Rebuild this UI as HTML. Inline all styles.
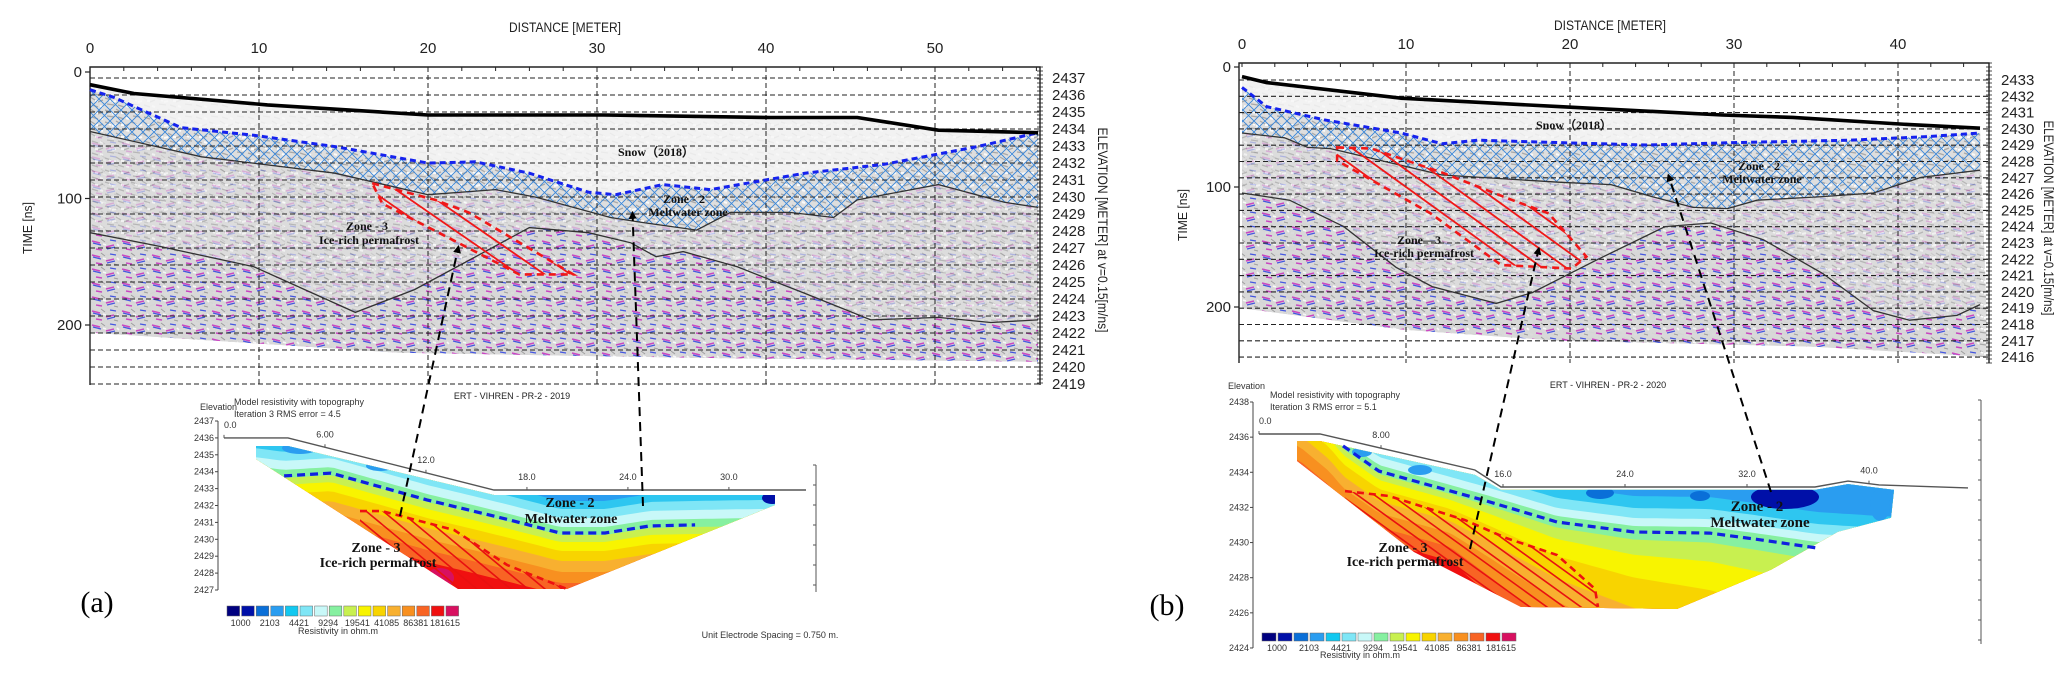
<!DOCTYPE html>
<html><head><meta charset="utf-8"><style>
html,body{margin:0;padding:0;background:#fff;width:2067px;height:676px;overflow:hidden;}
svg{display:block;overflow:hidden;}
.ax{font-family:"Liberation Sans",sans-serif;fill:#222;}
.lb{font-family:"Liberation Serif",serif;font-weight:bold;fill:#111;}
.sm{font-family:"Liberation Sans",sans-serif;fill:#333;font-size:9px;}
</style></head><body>
<svg id="fig" width="2067" height="676" viewBox="0 0 2067 676" xmlns="http://www.w3.org/2000/svg">
<defs>
<pattern id="noise" width="26" height="12" patternUnits="userSpaceOnUse">
<rect width="26" height="12" fill="#dedede"/>
<path d="M1 2l6 2M12 1l5 3M20 6l5-2M3 8l7 1M14 9l6 2" stroke="#a8a8a8" stroke-width="1.3"/>
<path d="M8 6l4-1M22 10l3 1M17 5l3 0M5 4l2 1" stroke="#fbfbfb" stroke-width="2"/>
</pattern>
<pattern id="streak" width="30" height="14" patternUnits="userSpaceOnUse">
<rect width="30" height="14" fill="#d8d8d8"/>
<path d="M2 3l8 2M16 9l8 -2M6 11l6 1" stroke="#c83cc0" stroke-width="1.6"/>
<path d="M3 5l8 2M17 11l8 -2M20 2l6 1" stroke="#3a4ee0" stroke-width="1.3"/>
<path d="M11 1l4 3M24 12l4 1" stroke="#999" stroke-width="1"/>
<path d="M13 6l3 1M27 6l2 2" stroke="#fafafa" stroke-width="1.6"/>
</pattern>
<pattern id="xhatch" width="11" height="11" patternUnits="userSpaceOnUse">
<path d="M0 0L11 11M11 0L0 11" stroke="#3a86d8" stroke-width="0.9"/>
</pattern>
<marker id="arr" viewBox="0 0 10 10" refX="8" refY="5" markerWidth="4" markerHeight="5" orient="auto">
<path d="M0 0L10 5L0 10z" fill="#000"/>
</marker>
</defs>

<text class="ax" x="565" y="32" font-size="14" text-anchor="middle" textLength="112" lengthAdjust="spacingAndGlyphs">DISTANCE [METER]</text>
<text class="ax" transform="translate(32,228) rotate(-90)" font-size="13" text-anchor="middle" textLength="52" lengthAdjust="spacingAndGlyphs">TIME [ns]</text>
<text class="ax" transform="translate(1098,230) rotate(90)" font-size="14" text-anchor="middle" textLength="205" lengthAdjust="spacingAndGlyphs">ELEVATION [METER] at v=0.15[m/ns]</text>
<text class="ax" x="512" y="399" font-size="9" text-anchor="middle">ERT - VIHREN - PR-2 - 2019</text>
<text class="sm" x="200" y="410">Elevation</text>
<text class="sm" x="234" y="405">Model resistivity with topography</text>
<text class="sm" x="234" y="417">Iteration 3 RMS error = 4.5</text>
<text class="sm" x="338" y="634" text-anchor="middle">Resistivity in ohm.m</text>
<text class="sm" x="770" y="638" text-anchor="middle">Unit Electrode Spacing = 0.750 m.</text>
<text x="97" y="612" font-family="Liberation Serif, serif" font-size="30" text-anchor="middle">(a)</text>

<text class="ax" x="1610" y="30" font-size="14" text-anchor="middle" textLength="112" lengthAdjust="spacingAndGlyphs">DISTANCE [METER]</text>
<text class="ax" transform="translate(1187,215) rotate(-90)" font-size="13" text-anchor="middle" textLength="52" lengthAdjust="spacingAndGlyphs">TIME [ns]</text>
<text class="ax" transform="translate(2044,218) rotate(90)" font-size="14" text-anchor="middle" textLength="195" lengthAdjust="spacingAndGlyphs">ELEVATION [METER] at v=0.15[m/ns]</text>
<text class="ax" x="1608" y="388" font-size="9" text-anchor="middle">ERT - VIHREN - PR-2 - 2020</text>
<text class="sm" x="1228" y="389">Elevation</text>
<text class="sm" x="1270" y="398">Model resistivity with topography</text>
<text class="sm" x="1270" y="410">Iteration 3 RMS error = 5.1</text>
<text class="sm" x="1360" y="658" text-anchor="middle">Resistivity in ohm.m</text>
<text x="1167" y="615" font-family="Liberation Serif, serif" font-size="30" text-anchor="middle">(b)</text>

<g id="layer"></g>
</svg>
<script>
// ---------- DATA (distance m, time ns) ----------
const distTicksA=[0,10,20,30,40,50];
const distTicksB=[0,10,20,30,40];
const timeTicks=[0,100,200];
const elevLabelsA=[2437,2436,2435,2434,2433,2432,2431,2430,2429,2428,2427,2426,2425,2424,2423,2422,2421,2420,2419];
const elevLabelsB=[2433,2432,2431,2430,2429,2428,2427,2426,2425,2424,2423,2422,2421,2420,2419,2418,2417,2416];

const surfA=[[0,10],[2.6,17],[10.5,26],[20,34],[30.4,34],[40.2,36],[45.4,36],[50.2,46],[56.1,48]];
const snowA=[[0,14],[1.4,20],[5.4,44],[9.7,50],[14.5,59],[20,72],[22.8,71],[26,80],[29.5,95],[31.1,97],[33.9,89],[36.7,93],[42.3,80],[47,73],[52.5,59],[56.1,48]];
const layer1A=[[0,47],[6.6,67],[14.5,80],[20,97],[24,93],[26.4,99],[30.8,115],[32.7,119],[35.9,125],[37.9,111],[41.4,111],[44,115],[45.4,101],[50.2,89],[54.1,103],[56.1,107]];
const layer2A=[[0,127],[4.2,138],[9.7,154],[15.7,190],[19.2,172],[22.4,149],[26,123],[29.5,127],[32,135],[33.5,146],[35.1,142],[38.3,154],[42.3,175],[46.2,196],[50.2,194],[53.3,198],[56.1,196]];
const bottomA=[[0,206],[18.3,222],[36.1,226],[56.1,229]];
const zone3A=[[16.7,88],[20.4,101],[22.4,111],[28.6,160],[25.4,160],[17.3,104]];
const arrowsA=[[21.8,138],[32.1,111]];

const surfB=[[0,8],[1.5,13],[9.7,26],[19.3,33],[29.3,40],[33.6,42],[40.7,48],[45,51]];
const snowB=[[0,17],[1.5,33],[5,44],[9.7,55],[12.2,64],[14.4,61],[19.3,63],[24.7,65],[30,63],[37.1,61],[41.8,58],[45,55]];
const layer1B=[[0,55],[2.6,59],[4,67],[5.4,68],[12.2,90],[19.3,96],[22.5,98],[25,108],[27.5,117],[29.6,118],[31.4,111],[35.4,108],[38.5,105],[41.4,92],[45,86]];
const layer2B=[[0,105],[2.9,111],[6.2,133],[9.4,167],[11.6,183],[15.5,197],[17.7,188],[21.6,161],[25.8,133],[28.6,130],[31.8,144],[35.4,172],[38.5,203],[40.7,211],[43.6,207],[45,198]];
const bottomB=[[0,201],[9.9,219],[19.2,228],[34.8,233],[43.5,240],[45.5,242]];
const zone3B=[[5.8,67],[7.9,68],[12.2,88],[16.5,111],[18.7,122],[21,158],[20.1,168],[15.8,165],[11.5,122],[5.8,78]];
const arrowsB=[[18.1,151],[26,90]];

// ---------- ERT DATA (distance m, elevation m) ----------
const ertTicksA=["0.0","6.00","12.0","18.0","24.0","30.0"];
const ertTickPosA=[0,6,12,18,24,30];
const ertElevA=[2437,2436,2435,2434,2433,2432,2431,2430,2429,2428,2427];
const ertSurfA=[[0,2436],[3.8,2436],[16.04,2432.92],[34.58,2432.92]];
const ertBodyA=[[1.9,2435.52],[3.8,2435.52],[16.04,2432.62],[32.74,2432.62],[32.74,2432.03],[20.38,2427.06],[13.9,2427.06],[1.9,2434.75]];
const ertMeltA=[[3.57,2433.75],[6.36,2433.92],[12.06,2432.33],[16.99,2431.14],[19.96,2430.37],[22.64,2430.37],[25.31,2430.79],[27.99,2430.85]];
const ertZone3A=[[8.08,2431.67],[9.39,2431.67],[13.67,2430.55],[16.82,2428.48],[20.38,2427.06],[13.9,2427.06],[8.08,2430.79]];

const ertTicksB=["0.0","8.00","16.0","24.0","32.0","40.0"];
const ertTickPosB=[0,8,16,24,32,40];
const ertElevB=[2438,2436,2434,2432,2430,2428,2426,2424];
const ertSurfB=[[0,2436.18],[4,2436.18],[14.16,2434.13],[15.87,2433.16],[36.46,2433.16],[38.62,2433.5],[40.66,2433.28],[46.49,2433.11]];
const ertBodyB=[[2.49,2435.78],[4,2435.78],[14.16,2433.85],[15.87,2433.0],[36.46,2433.0],[38.62,2433.33],[41.64,2433.0],[41.44,2431.41],[37.97,2430.61],[33.57,2428.45],[27.41,2426.22],[17.18,2426.33],[10.16,2429.46],[2.49,2434.64]];
const ertMeltB=[[5.51,2435.5],[7.87,2434.07],[11.87,2433.1],[14.89,2432.37],[19.54,2431.17],[24.59,2430.6],[29.57,2430.54],[32.92,2430.15],[36.59,2429.69]];
const ertZone3B=[[5.64,2432.93],[8.52,2432.65],[13.51,2431.28],[16.2,2430.26],[19.54,2429.29],[22.03,2427.36],[22.23,2426.33],[17.18,2426.33],[10.16,2429.46],[5.64,2432.54]];

const cbValues=["1000","2103","4421","9294","19541","41085","86381","181615"];
const cbColors=["#00007f","#0010a8","#0a6fd8","#2a9df0","#12c8f0","#7fe6f6","#c8f8f8","#86f0a0","#c8f050","#f8f400","#f8d400","#f8b030","#f89020","#f86424","#f01010","#d81060"];

// ---------- helpers ----------
const NS='http://www.w3.org/2000/svg';
const root=document.getElementById('layer');
function mk(tag,attrs,parent){const e=document.createElementNS(NS,tag);for(const k in attrs)e.setAttribute(k,attrs[k]);(parent||root).appendChild(e);return e;}
function ptsStr(a,fx,fy){return a.map(p=>fx(p[0]).toFixed(1)+','+fy(p[1]).toFixed(1)).join(' ');}
function interp(arr,x){
  if(x<=arr[0][0])return arr[0][1];
  for(let i=1;i<arr.length;i++){if(x<=arr[i][0]){const a=arr[i-1],b=arr[i];return a[1]+(b[1]-a[1])*(x-a[0])/(b[0]-a[0]);}}
  return arr[arr.length-1][1];
}

function radar(P,d,tag){
  const X=m=>P.x0+m*P.pxm, Y=t=>P.y0+t*P.pxns;
  const g=mk('g',{});
  
  
  const cid='clip-'+tag;
  const cp=mk('clipPath',{id:cid},g);
  mk('polygon',{points:ptsStr(d.surf,X,Y)+' '+ptsStr(d.bottom.slice().reverse(),X,Y)},cp);
  const data=mk('g',{'clip-path':'url(#'+cid+')'},g);
  const bg=mk('rect',{x:P.left,y:P.top,width:P.right-P.left,height:P.bottom-P.top,fill:'url(#noise)'},data);
  
  
  const deep1=mk('polygon',{points:ptsStr(d.l1,X,Y)+' '+X(d.l1[d.l1.length-1][0])+','+P.bottom+' '+P.left+','+P.bottom,fill:'url(#streak)',opacity:'0.3'},data);
  
  
  const deep2=mk('polygon',{points:ptsStr(d.l2,X,Y)+' '+X(d.l2[d.l2.length-1][0])+','+P.bottom+' '+P.left+','+P.bottom,fill:'url(#streak)',opacity:'0.9'},data);
  
  
  const snowTop=mk('polygon',{points:ptsStr(d.surf,X,Y)+' '+ptsStr(d.snow.slice().reverse(),X,Y),fill:'#f6f6f6',opacity:'0.85'},data);
  
  
  const melt=mk('polygon',{points:ptsStr(d.snow,X,Y)+' '+ptsStr(d.l1.slice().reverse(),X,Y),fill:'url(#xhatch)'},data);
  
  
  for(let i=0;i<d.elev.length;i++){
    const y=P.ey0+i*P.estep;
    const l=mk('line',{x1:P.left,x2:P.right,y1:y,y2:y,stroke:'#222','stroke-width':1.1,'stroke-dasharray':'5,3'},g);
    
    
    const t=mk('text',{x:P.right+12,y:y+5,'font-size':15,class:'ax'},g);
    t.textContent=d.elev[i];
    
    
  }
  d.dt.forEach(v=>{
    const x=X(v);
    if(v>0){const l=mk('line',{x1:x,x2:x,y1:P.top,y2:P.bottom,stroke:'#222','stroke-width':1,'stroke-dasharray':'5,3'},g);
    
    }
    const t=mk('text',{x:x,y:P.top-14,'font-size':15,'text-anchor':'middle',class:'ax'},g);
    t.textContent=v;
    
    
  });
  for(let m=0;m<=P.maxD;m+=2){mk('line',{x1:X(m),x2:X(m),y1:P.top,y2:P.top+4,stroke:'#222'},g);}
  timeTicks.forEach(v=>{
    const y=Y(v);
    mk('line',{x1:P.left-5,x2:P.left,y1:y,y2:y,stroke:'#222','stroke-width':1.2},g);
    const t=mk('text',{x:P.left-8,y:y+5,'font-size':15,'text-anchor':'end',class:'ax'},g);
    t.textContent=v;
    
    
  });
  const fr=mk('path',{d:`M${P.left},${P.bottom}V${P.top}H${P.right}V${P.bottom}`,fill:'none',stroke:'#222','stroke-width':1.4},g);
  
  
  for(let y=P.top;y<=P.bottom;y+=4){mk('line',{x1:P.right-3,x2:P.right+3,y1:y,y2:y,stroke:'#222','stroke-width':0.8},g);}
  const l1=mk('polyline',{points:ptsStr(d.l1,X,Y),fill:'none',stroke:'#333','stroke-width':1.3},g);
  
  
  const l2=mk('polyline',{points:ptsStr(d.l2,X,Y),fill:'none',stroke:'#333','stroke-width':1.3},g);
  
  
  const sn=mk('polyline',{points:ptsStr(d.snow,X,Y),fill:'none',stroke:'#1522ee','stroke-width':3,'stroke-dasharray':'6,4'},g);
  
  
  const sf=mk('polyline',{points:ptsStr(d.surf,X,Y),fill:'none',stroke:'#000','stroke-width':3.6},g);
  
  
  const zc='zc-'+tag;
  const zcp=mk('clipPath',{id:zc},g);
  mk('polygon',{points:ptsStr(d.z3,X,Y)},zcp);
  const zg=mk('g',{'clip-path':'url(#'+zc+')'},g);
  
  
  const p0=[X(d.z3[0][0]),Y(d.z3[0][1])];
  for(let k=-6;k<12;k++){const x=p0[0]+k*P.hsp;mk('line',{x1:x,y1:p0[1]-10,x2:x+P.hlen,y2:p0[1]-10+P.hlen*P.hsl,stroke:'#f01818','stroke-width':1.8},zg);}
  const zo=mk('polygon',{points:ptsStr(d.z3,X,Y),fill:'none',stroke:'#f01818','stroke-width':2.6,'stroke-dasharray':'7,5'},g);
  
  
  return {X,Y};
}

function ert(E,d,tag){
  const X=m=>E.x0+m*E.pxm, Y=e=>E.y0+(E.e0-e)*E.pxe;
  const g=mk('g',{});
  
  
  const ax=mk('line',{x1:E.axx,x2:E.axx,y1:Y(d.elev[0]),y2:Y(d.elev[d.elev.length-1]),stroke:'#444'},g);
  
  
  d.elev.forEach(v=>{
    mk('line',{x1:E.axx-3,x2:E.axx,y1:Y(v),y2:Y(v),stroke:'#444'},g);
    const t=mk('text',{x:E.axx-4,y:Y(v)+3,'text-anchor':'end',class:'sm','font-size':8.5},g);
    t.textContent=v;
    
    
  });
  const ra=mk('line',{x1:E.rx,x2:E.rx,y1:E.ry1,y2:E.ry2,stroke:'#555'},g);
  
  
  for(let y=E.ry1;y<=E.ry2;y+=20){mk('line',{x1:E.rx-3,x2:E.rx,y1:y,y2:y,stroke:'#555'},g);}
  const cid='ertclip-'+tag;
  const cp=mk('clipPath',{id:cid},g);
  mk('polygon',{points:ptsStr(d.body,X,Y)},cp);
  const bg=mk('g',{'clip-path':'url(#'+cid+')'},g);
  
  
  const mpx=d.melt.map(p=>[X(p[0]),Y(p[1])]);
  const curve=E.extL.concat(mpx,E.extR);
  mk('rect',{x:E.x0-50,y:E.y0-50,width:900,height:270,fill:'#f01010'},bg);
  E.bands.forEach(b=>{
    const pts=[];
    for(let x=E.x0-40;x<=E.x0+820;x+=6){
      const k=b[0]>0?(1+Math.max(0,x-E.kx)/E.kd):1;
      const yy=Math.min(660,interp(curve,x)+b[0]*k);
      pts.push(x.toFixed(1)+','+yy.toFixed(1));
    }
    pts.push((E.x0+820)+','+(E.y0-60));pts.push((E.x0-40)+','+(E.y0-60));
    mk('polygon',{points:pts.join(' '),fill:b[1]},bg);
  });
  E.blobs.forEach(b=>{mk('ellipse',{cx:b[0],cy:b[1],rx:b[2],ry:b[3],fill:b[4]},bg);});
  const zc='ertz-'+tag;
  const zcp=mk('clipPath',{id:zc},g);
  mk('polygon',{points:ptsStr(d.z3,X,Y)},zcp);
  const zg=mk('g',{'clip-path':'url(#'+zc+')'},g);
  
  
  const p0=[X(d.z3[0][0]),Y(d.z3[0][1])];
  for(let k=-8;k<14;k++){const x=p0[0]+k*E.hsp;mk('line',{x1:x,y1:p0[1]-5,x2:x+E.hlen,y2:p0[1]-5+E.hlen*E.hsl,stroke:'#e81010','stroke-width':1.6},zg);}
  const zo=mk('polyline',{points:ptsStr(d.z3.slice(0,E.zn),X,Y),fill:'none',stroke:'#ee1010','stroke-width':2.6,'stroke-dasharray':'7,5'},g);
  
  
  const ml=mk('polyline',{points:ptsStr(d.melt,X,Y),fill:'none',stroke:'#1020e0','stroke-width':3.2,'stroke-dasharray':'8,5'},g);
  
  
  const sf=mk('polyline',{points:ptsStr(d.surf,X,Y),fill:'none',stroke:'#555','stroke-width':1.4},g);
  
  
  d.ticks.forEach((lab,i)=>{
    const x=X(d.tickPos[i]);
    const ys=interp(d.surf.map(p=>[X(p[0]),Y(p[1])]),x);
    mk('line',{x1:x,x2:x,y1:ys-3,y2:ys,stroke:'#555'},g);
    const t=mk('text',{x:x,y:ys-E.tlo,'text-anchor':i==0?'start':'middle',class:'sm'},g);
    t.textContent=lab;
    
    
  });
  cbColors.forEach((c,i)=>{
    const r=mk('rect',{x:E.cbx+i*E.cbw,y:E.cby,width:E.cbw-2,height:E.cbh,fill:c,stroke:'#666','stroke-width':0.5},g);
    
    
  });
  cbValues.forEach((v,i)=>{
    const t=mk('text',{x:E.cbx+(2*i+1)*E.cbw-1,y:E.cby+E.cbh+10,'text-anchor':'middle',class:'sm','font-size':8},g);
    t.textContent=v;
    
    
  });
  return {X,Y};
}

function label(x,y,txt,size,name){
  const t=mk('text',{x:x,y:y,'font-size':size,'text-anchor':'middle',class:'lb'});
  t.textContent=txt;
  
  
}
function connector(x1,y1,x2,y2,name){
  const l=mk('line',{x1:x1,y1:y1,x2:x2,y2:y2,stroke:'#000','stroke-width':2,'stroke-dasharray':'9,6','marker-end':'url(#arr)'});
  
  
}

// ---------- panel A ----------
const PA={x0:90,pxm:16.9,y0:72,pxns:1.265,left:90,right:1040,top:67,bottom:385,ey0:78,estep:17.0,maxD:56,hsp:26,hsl:0.69,hlen:150};
const ra=radar(PA,{surf:surfA,snow:snowA,l1:layer1A,l2:layer2A,bottom:bottomA,z3:zone3A,elev:elevLabelsA,dt:distTicksA},'a');
const EA={x0:224,pxm:16.83,y0:421,pxe:16.9,e0:2437,axx:218,rx:816,ry1:465,ry2:592,
  extL:[[180,446],[240,470]],extR:[[760,524],[820,524]],kx:2000,kd:100,
  bands:[[62,'#f86424'],[50,'#f89020'],[39,'#f8b030'],[28,'#f8d400'],[18,'#f8f400'],[9,'#c8f050'],[2,'#86f0a0'],[-6,'#c8f8f8'],[-15,'#7fe6f6'],[-24,'#2ec6f0'],[-32,'#2a9df0']],
  blobs:[[440,578,14,10,'#d81060'],[772,498,10,6,'#0010a8'],[300,448,18,6,'#2a9df0'],[380,466,14,5,'#2a9df0']],
  hsp:17,hsl:0.83,hlen:130,zn:5,tlo:10,cbx:227,cby:606,cbw:14.6,cbh:10};
ert(EA,{surf:ertSurfA,body:ertBodyA,melt:ertMeltA,z3:ertZone3A,elev:ertElevA,ticks:ertTicksA,tickPos:ertTickPosA},'a');
label(656,156,'Snow（2018）',12,'snow-label-a');
label(684,203,'Zone - 2',12,'zone2-label-a');
label(688,216,'Meltwater  zone',12,'meltwater-label-a');
label(367,230,'Zone - 3',12,'zone3-label-a');
label(369,244,'Ice-rich permafrost',12,'permafrost-label-a');
label(570,507,'Zone - 2',14,'ert-zone2-label-a');
label(571,523,'Meltwater  zone',14,'ert-meltwater-label-a');
label(376,552,'Zone - 3',14,'ert-zone3-label-a');
label(378,567,'Ice-rich permafrost',14,'ert-permafrost-label-a');
connector(400,516,ra.X(arrowsA[0][0]),ra.Y(arrowsA[0][1]),'connector-arrow-zone3-a');
connector(643,506,ra.X(arrowsA[1][0]),ra.Y(arrowsA[1][1]),'connector-arrow-zone2-a');

// ---------- panel B ----------
const PB={x0:1242,pxm:16.4,y0:67,pxns:1.2,left:1239,right:1989,top:63,bottom:363,ey0:80,estep:16.3,maxD:45,hsp:24,hsl:0.72,hlen:190};
const rb=radar(PB,{surf:surfB,snow:snowB,l1:layer1B,l2:layer2B,bottom:bottomB,z3:zone3B,elev:elevLabelsB,dt:distTicksB},'b');
const EB={x0:1259,pxm:15.25,y0:402,pxe:17.57,e0:2438,axx:1253,rx:1981,ry1:400,ry2:644,
  extL:[[1250,385],[1300,405],[1330,430]],extR:[[1880,552],[1960,556]],kx:1450,kd:120,
  bands:[[70,'#f86424'],[56,'#f89020'],[42,'#f8b030'],[30,'#f8d400'],[18,'#f8f400'],[9,'#c8f050'],[3,'#86f0a0'],[-6,'#c8f8f8'],[-14,'#7fe6f6'],[-24,'#2ec6f0'],[-36,'#2a9df0']],
  blobs:[[1440,590,22,18,'#d81060'],[1785,497,34,12,'#0010a8'],[1600,493,14,6,'#0a6fd8'],[1700,496,10,5,'#0a6fd8'],[1880,505,10,16,'#2a9df0'],[1362,452,10,5,'#2a9df0'],[1420,470,12,5,'#2a9df0']],
  hsp:17,hsl:0.72,hlen:180,zn:7,tlo:10,cbx:1262,cby:633,cbw:16,cbh:8};
ert(EB,{surf:ertSurfB,body:ertBodyB,melt:ertMeltB,z3:ertZone3B,elev:ertElevB,ticks:ertTicksB,tickPos:ertTickPosB},'b');
label(1574,129,'Snow（2018）',12,'snow-label-b');
label(1759,170,'Zone - 2',12,'zone2-label-b');
label(1762,183,'Meltwater  zone',12,'meltwater-label-b');
label(1419,244,'Zone—3',12,'zone3-label-b');
label(1424,257,'Ice-rich permafrost',12,'permafrost-label-b');
label(1757,511,'Zone - 2',15,'ert-zone2-label-b');
label(1760,527,'Meltwater  zone',15,'ert-meltwater-label-b');
label(1403,552,'Zone - 3',14,'ert-zone3-label-b');
label(1405,566,'Ice-rich permafrost',14,'ert-permafrost-label-b');
connector(1470,549,rb.X(arrowsB[0][0]),rb.Y(arrowsB[0][1]),'connector-arrow-zone3-b');
connector(1771,492,rb.X(arrowsB[1][0]),rb.Y(arrowsB[1][1]),'connector-arrow-zone2-b');
</script>
</body></html>
